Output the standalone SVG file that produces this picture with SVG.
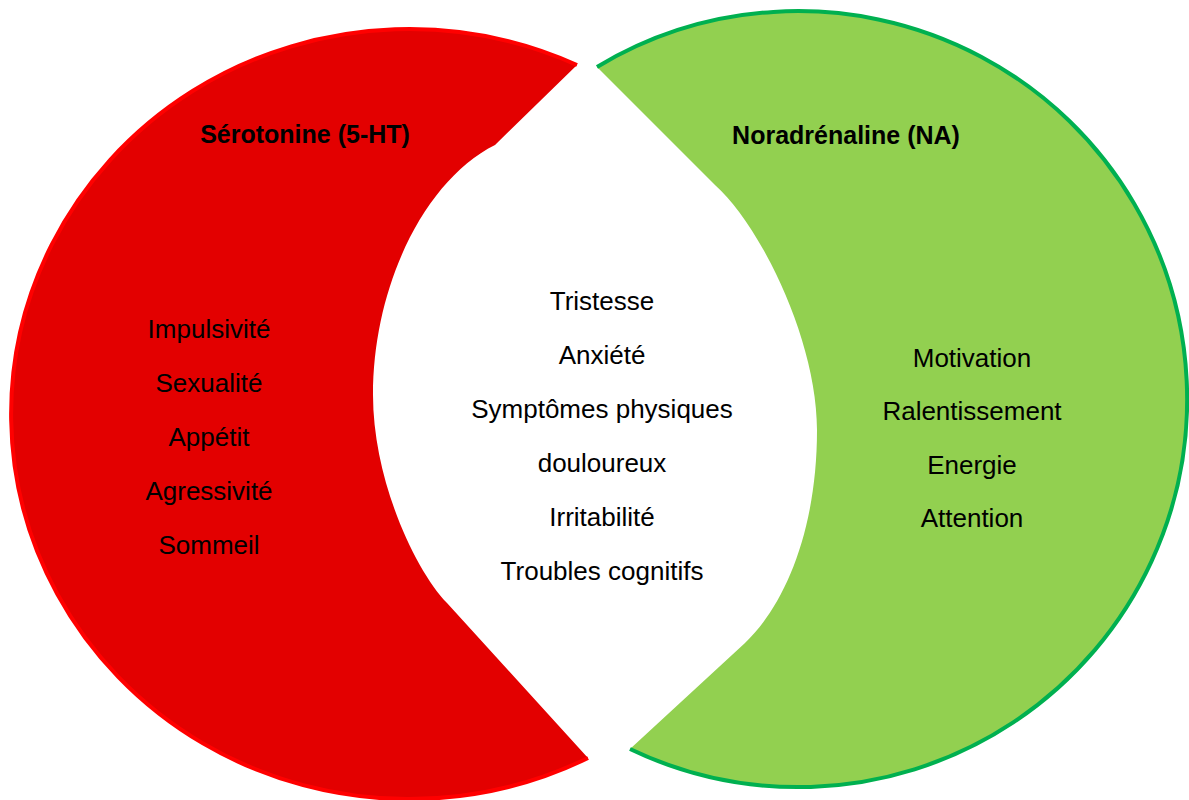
<svg xmlns="http://www.w3.org/2000/svg" width="1189" height="800" viewBox="0 0 1189 800">
<style>
.t{font-family:"Liberation Sans",Arial,sans-serif;font-size:26px;fill:#000;text-anchor:middle}
.h{font-family:"Liberation Sans",Arial,sans-serif;font-size:25px;font-weight:bold;fill:#000;text-anchor:middle}
</style>
<rect width="1189" height="800" fill="#fff"/>
<g id="serotonine">
<path d="M577 65 L495 145 C425 180 373 285 373 395 C373 480 415 570 447 603 L588 758 A398 385 0 1 1 577 65 Z" fill="#E30000"/>
<path d="M588 758 A398 385 0 1 1 577 65" fill="none" stroke="#FF0000" stroke-width="4"/>
<text class="h" x="305" y="143">Sérotonine (5-HT)</text>
<text class="t" x="209" y="338">Impulsivité</text>
<text class="t" x="209" y="392">Sexualité</text>
<text class="t" x="209" y="446">Appétit</text>
<text class="t" x="209" y="500">Agressivité</text>
<text class="t" x="209" y="554">Sommeil</text>
</g>
<g id="noradrenaline">
<path d="M597 67 L715 185 C760 225 817 340 817 430 C817 530 785 605 745 643 L630 749 A389 388 0 1 0 597 67 Z" fill="#92D050"/>
<path d="M597 67 A389 388 0 1 1 630 749" fill="none" stroke="#00B050" stroke-width="4"/>
<text class="h" x="846" y="144">Noradrénaline (NA)</text>
<text class="t" x="972" y="367">Motivation</text>
<text class="t" x="972" y="420">Ralentissement</text>
<text class="t" x="972" y="474">Energie</text>
<text class="t" x="972" y="527">Attention</text>
</g>
<g id="commun">
<text class="t" x="602" y="310">Tristesse</text>
<text class="t" x="602" y="364">Anxiété</text>
<text class="t" x="602" y="418">Symptômes physiques</text>
<text class="t" x="602" y="472">douloureux</text>
<text class="t" x="602" y="526">Irritabilité</text>
<text class="t" x="602" y="580">Troubles cognitifs</text>
</g>
<g id="connectors"/>
</svg>
